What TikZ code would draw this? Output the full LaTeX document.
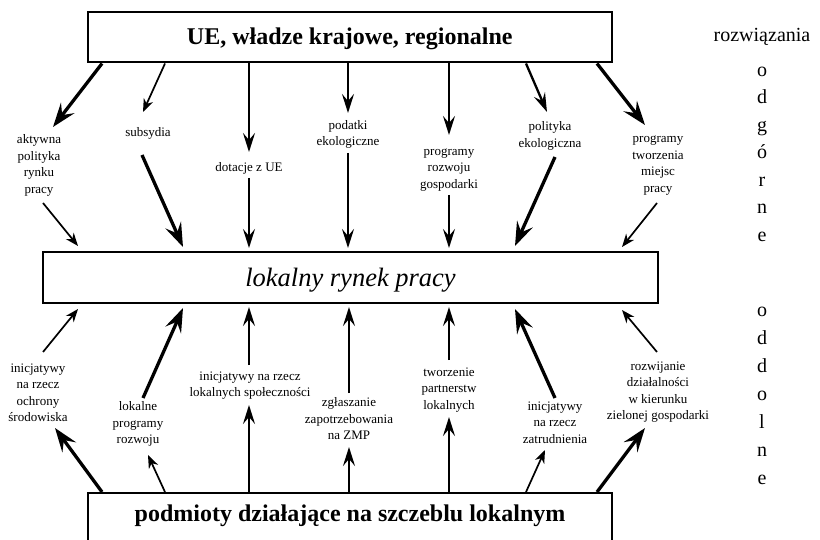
\documentclass[tikz,border=0pt]{standalone}
\usepackage{fontspec}
\setmainfont{Liberation Serif}
\usetikzlibrary{arrows.meta}
\begin{document}
\begin{tikzpicture}[x=1pt,y=-1pt,
  box/.style={draw, line width=2pt, inner sep=0pt},
  lbl/.style={align=center, inner sep=0pt, font=\fontsize{13}{16.5}\selectfont},
  side/.style={anchor=base, inner sep=0pt, font=\fontsize{20}{24}\selectfont},
  thinarr/.style={line width=1.7pt, -{Stealth[length=13pt,width=10pt,inset=4pt]}},
  midarr/.style={line width=2.3pt, -{Stealth[length=19pt,width=12pt,inset=7pt]}},
  thickarr/.style={line width=3.3pt, -{Stealth[length=24pt,width=17pt,inset=9pt]}},
]
\useasboundingbox (0,0) rectangle (820,540);

% the three levels
\node[box, minimum width=524.5pt, minimum height=50.5pt, text height=17pt, text depth=1.5pt,
      font=\fontsize{24}{28}\selectfont\bfseries] (top) at (349.75,37.25)
      {UE, władze krajowe, regionalne};
\node[box, minimum width=615pt, minimum height=50.5pt, text height=19pt, text depth=2pt,
      font=\fontsize{26.5}{30}\selectfont\itshape] (mid) at (350.5,277.75)
      {lokalny rynek pracy};
\node[box, minimum width=524pt, minimum height=52pt, text height=17pt, text depth=13pt,
      font=\fontsize{24}{28}\selectfont\bfseries] (bot) at (350,519)
      {podmioty działające na szczeblu lokalnym};

% top-down instruments
\node[lbl] (u1) at (39,165.5) {aktywna\\polityka\\rynku\\pracy};
\node[lbl] (u2) at (148,133) {subsydia};
\node[lbl] (u3) at (249,168) {dotacje z UE};
\node[lbl] (u4) at (348,134.5) {podatki\\ekologiczne};
\node[lbl] (u5) at (449,170) {programy\\rozwoju\\gospodarki};
\node[lbl] (u6) at (550,136) {polityka\\ekologiczna};
\node[lbl] (u7) at (658,165.5) {programy\\tworzenia\\miejsc\\pracy};

% bottom-up initiatives
\node[lbl] (d1) at (38,393) {inicjatywy\\na rzecz\\ochrony\\środowiska};
\node[lbl] (d2) at (138,424) {lokalne\\programy\\rozwoju};
\node[lbl] (d3) at (250,385.5) {inicjatywy na rzecz\\lokalnych społeczności};
\node[lbl] (d4) at (349,419) {zgłaszanie\\zapotrzebowania\\na ZMP};
\node[lbl] (d5) at (449,390) {tworzenie\\partnerstw\\lokalnych};
\node[lbl] (d6) at (555,422.5) {inicjatywy\\na rzecz\\zatrudnienia};
\node[lbl] (d7) at (658,392) {rozwijanie\\działalności\\w kierunku\\zielonej gospodarki};

% side captions
\node[side] (sideT) at (762,42) {rozwiązania};
\foreach \c [count=\i from 0] in {o,d,g,ó,r,n,e}
  \node[side] (sT\i) at (762,76.5+27.5*\i) {\c};
\foreach \c [count=\i from 0] in {o,d,d,o,l,n,e}
  \node[side] (sB\i) at (762,316.5+28*\i) {\c};

% free ends of the connectors
\coordinate (ua1) at (53,127);  \coordinate (ub1) at (43,203);  \coordinate (uc1) at (78,246);
\coordinate (ua2) at (143,112); \coordinate (ub2) at (142,155); \coordinate (uc2) at (183,247);
\coordinate (ua3) at (249,152); \coordinate (ub3) at (249,178); \coordinate (uc3) at (249,248);
\coordinate (ua4) at (348,113); \coordinate (ub4) at (348,153); \coordinate (uc4) at (348,248);
\coordinate (ua5) at (449,135); \coordinate (ub5) at (449,195); \coordinate (uc5) at (449,248);
\coordinate (ua6) at (547,112); \coordinate (ub6) at (555,157); \coordinate (uc6) at (515,246);
\coordinate (ua7) at (645,125); \coordinate (ub7) at (657,203); \coordinate (uc7) at (622,247);

\coordinate (da1) at (55,428);  \coordinate (db1) at (43,352);  \coordinate (dc1) at (78,309);
\coordinate (da2) at (148,455); \coordinate (db2) at (143,398); \coordinate (dc2) at (183,308);
\coordinate (da3) at (249,405); \coordinate (db3) at (249,365); \coordinate (dc3) at (249,307);
\coordinate (da4) at (349,447); \coordinate (db4) at (349,393); \coordinate (dc4) at (349,307);
\coordinate (da5) at (449,417); \coordinate (db5) at (449,360); \coordinate (dc5) at (449,307);
\coordinate (da6) at (545,450); \coordinate (db6) at (555,398); \coordinate (dc6) at (515,309);
\coordinate (da7) at (645,428); \coordinate (db7) at (657,352); \coordinate (dc7) at (622,310);

% top level -> instruments -> local market
\draw[thickarr] (102,0 |- top.south) -- (ua1);  \draw[thinarr]  (ub1) -- (uc1);
\draw[thinarr]  (165,0 |- top.south) -- (ua2);  \draw[thickarr] (ub2) -- (uc2);
\draw[midarr]   (249,0 |- top.south) -- (ua3);  \draw[midarr]   (ub3) -- (uc3);
\draw[midarr]   (348,0 |- top.south) -- (ua4);  \draw[midarr]   (ub4) -- (uc4);
\draw[midarr]   (449,0 |- top.south) -- (ua5);  \draw[midarr]   (ub5) -- (uc5);
\draw[midarr]   (526,0 |- top.south) -- (ua6);  \draw[thickarr] (ub6) -- (uc6);
\draw[thickarr] (597,0 |- top.south) -- (ua7);  \draw[thinarr]  (ub7) -- (uc7);

% local actors -> initiatives -> local market
\draw[thickarr] (102,0 |- bot.north) -- (da1);  \draw[thinarr]  (db1) -- (dc1);
\draw[thinarr]  (165,0 |- bot.north) -- (da2);  \draw[thickarr] (db2) -- (dc2);
\draw[midarr]   (249,0 |- bot.north) -- (da3);  \draw[midarr]   (db3) -- (dc3);
\draw[midarr]   (349,0 |- bot.north) -- (da4);  \draw[midarr]   (db4) -- (dc4);
\draw[midarr]   (449,0 |- bot.north) -- (da5);  \draw[midarr]   (db5) -- (dc5);
\draw[thinarr]  (526,0 |- bot.north) -- (da6);  \draw[thickarr] (db6) -- (dc6);
\draw[thickarr] (597,0 |- bot.north) -- (da7);  \draw[thinarr]  (db7) -- (dc7);
\end{tikzpicture}
\end{document}
